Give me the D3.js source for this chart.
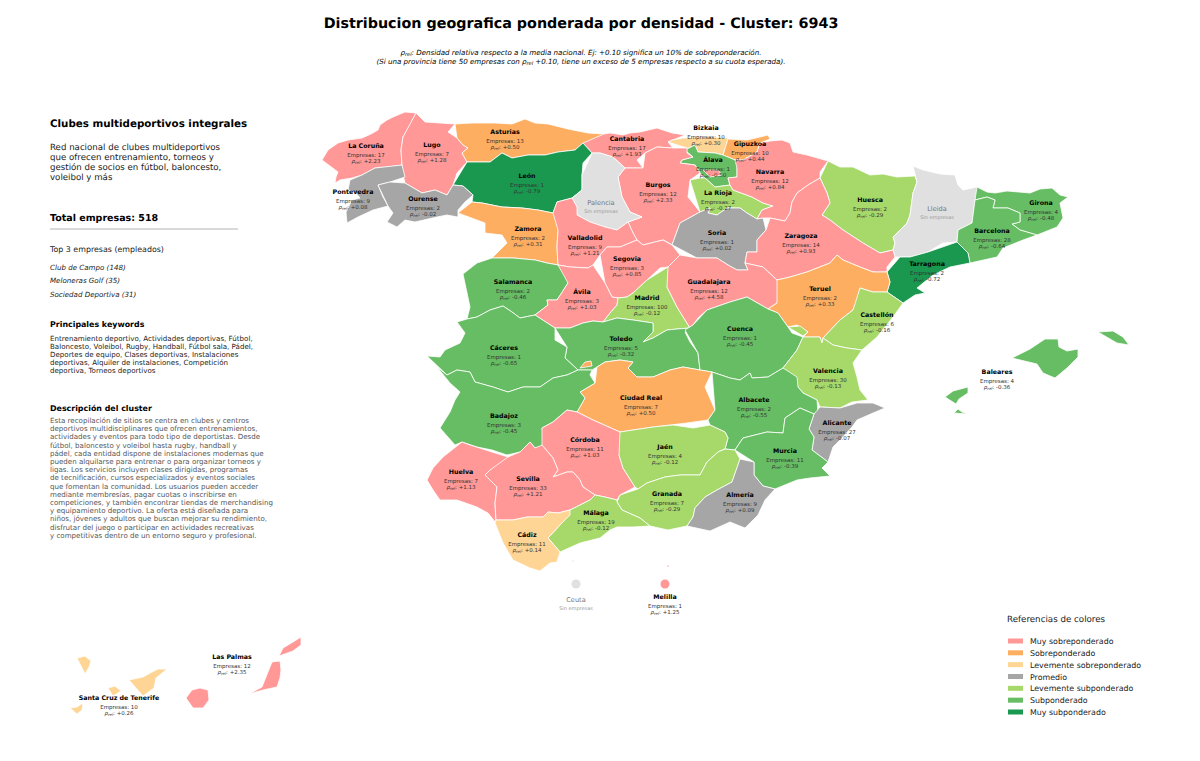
<!DOCTYPE html>
<html>
<head>
<meta charset="utf-8">
<script src="https://cdn.jsdelivr.net/npm/d3@7"></script>
<style>
body { margin: 0; background: #fff; }
svg { display: block; }
text { font-family: "DejaVu Sans", sans-serif; text-rendering: geometricPrecision; }
</style>
</head>
<body>
<svg width="1200" height="761"></svg>
<script>
// values
var provincias = ["La Coruña","Lugo","Asturias","Cantabria","Bizkaia","Gipuzkoa","Álava","León","Pontevedra","Ourense","La Rioja","Navarra","Burgos","Palencia","Huesca","Lleida","Girona","Barcelona","Zamora","Valladolid","Soria","Zaragoza","Segovia","Tarragona","Salamanca","Ávila","Madrid","Guadalajara","Teruel","Castellón","Toledo","Cuenca","Cáceres","Baleares","Valencia","Ciudad Real","Badajoz","Albacete","Alicante","Córdoba","Jaén","Murcia","Huelva","Sevilla","Granada","Almería","Málaga","Cádiz","Ceuta","Melilla","Las Palmas","Santa Cruz de Tenerife"];
var empresas = [17,7,13,17,10,10,1,1,9,2,2,12,12,0,2,0,4,28,2,9,1,14,3,2,2,3,100,12,2,6,5,1,1,4,30,7,3,2,27,11,4,11,7,33,7,9,19,11,0,1,12,10];
var rhoRel = [2.23,1.28,0.50,1.93,0.30,0.44,-0.50,-0.79,0.08,-0.02,-0.27,0.84,2.33,null,-0.29,null,-0.48,-0.64,0.31,1.21,0.02,0.93,0.85,-0.72,-0.46,1.03,-0.12,4.58,0.33,-0.16,-0.32,-0.45,-0.65,-0.36,-0.13,0.50,-0.45,-0.55,-0.07,1.03,-0.12,-0.39,1.13,1.21,-0.29,0.09,-0.12,0.14,null,1.25,2.35,0.26];

var categorias = ["Muy sobreponderado","Sobreponderado","Levemente sobreponderado","Promedio","Levemente subponderado","Subponderado","Muy subponderado"];
var colores = ["#ff9896","#fdae61","#fed595","#a6a6a6","#a6d96a","#66bd63","#1a9850"];
var cortes = [-0.7,-0.3,-0.1,0.1,0.305,0.51];

var top3 = ["Club de Campo (148)","Meloneras Golf (35)","Sociedad Deportiva (31)"];
var resumen = ["Red nacional de clubes multideportivos","que ofrecen entrenamiento, torneos y","gestión de socios en fútbol, baloncesto,","voleibol y más"];
var keywords = ["Entrenamiento deportivo, Actividades deportivas, Fútbol,","Baloncesto, Voleibol, Rugby, Handball, Fútbol sala, Pádel,","Deportes de equipo, Clases deportivas, Instalaciones","deportivas, Alquiler de instalaciones, Competición","deportiva, Torneos deportivos"];
var descripcion = ["Esta recopilación de sitios se centra en clubes y centros","deportivos multidisciplinares que ofrecen entrenamientos,","actividades y eventos para todo tipo de deportistas. Desde","fútbol, baloncesto y voleibol hasta rugby, handball y","pádel, cada entidad dispone de instalaciones modernas que","pueden alquilarse para entrenar o para organizar torneos y","ligas. Los servicios incluyen clases dirigidas, programas","de tecnificación, cursos especializados y eventos sociales","que fomentan la comunidad. Los usuarios pueden acceder","mediante membresías, pagar cuotas o inscribirse en","competiciones, y también encontrar tiendas de merchandising","y equipamiento deportivo. La oferta está diseñada para","niños, jóvenes y adultos que buscan mejorar su rendimiento,","disfrutar del juego o participar en actividades recreativas","y competitivas dentro de un entorno seguro y profesional."];

// province outlines, as arc minutes east of 10W / south of 44N, traced by eye
// (the Canaries sit in their inset, hence the negative eastings)
var contornos = {
  "La Coruña": ["42,60 48,50 58,43 68,40 82,38 91,34 98,30 100,25 107,20 113,17 125,12 136,13 130,25 123,37 121,50 122,65 115,66 107,67 95,68 82,75 72,78 60,80 55,83 56,77 58,72 50,64"],
  "Lugo": ["136,13 145,22 160,23 175,24 168,32 177,38 183,45 188,48 182,53 187,62 177,73 173,85 167,95 155,90 142,93 125,83 123,75 122,65 121,50 123,37 130,25"],
  "Pontevedra": ["122,65 125,77 110,82 98,85 103,97 108,106 93,110 78,117 67,123 66,112 72,100 80,98 75,92 68,90 70,80 82,75 95,68 107,67"],
  "Ourense": ["98,85 110,82 125,83 142,93 155,90 167,95 173,85 183,86 193,95 185,102 178,110 178,117 167,115 157,117 135,122 125,120 117,127 107,122 113,113 108,106 103,97"],
  "Asturias": ["175,24 192,23 215,23 232,24 245,19 255,23 268,24 288,29 308,33 324,34 323,42 303,43 295,50 278,52 265,55 248,55 232,58 222,53 210,62 188,62 187,62 182,53 188,48 183,45 177,38 168,32"],
  "León": ["187,62 210,62 222,53 232,58 248,55 265,55 278,52 295,50 303,43 312,53 303,63 302,75 302,90 292,98 277,102 273,113 258,110 242,108 222,107 202,103 192,102 193,95 183,86 173,85 177,73"],
  "Palencia": ["312,53 320,53 333,57 345,68 338,77 342,97 350,112 362,117 348,122 337,130 325,127 310,122 297,115 297,107 292,98 302,90 302,75 303,63"],
  "Cantabria": ["324,34 330,33 343,35 350,33 360,32 377,28 392,33 405,35 388,42 393,48 377,47 365,53 357,60 363,68 345,68 333,57 320,53 312,53 303,43 323,42"],
  "Álava": ["405,50 415,45 418,52 435,53 443,55 455,60 459,62 457,68 457,77 448,78 450,85 435,87 425,78 420,73 415,65 400,63 402,60 413,57 407,53"],
  "Burgos": ["365,53 377,47 393,48 407,48 407,53 413,57 402,60 400,63 415,65 420,73 410,80 408,97 420,112 400,123 392,145 383,140 363,145 357,140 353,133 348,122 362,117 350,112 342,97 338,77 345,68 363,68 357,60", "423,70 438,70 442,75 430,77 425,74"],
  "Bizkaia": ["388,42 392,40 403,38 420,37 433,37 448,38 447,43 443,55 435,53 418,52 415,45 405,50 407,48 393,48"],
  "Gipuzkoa": ["448,39 467,40 480,37 488,35 490,39 480,43 477,52 463,60 455,60 443,55 447,43"],
  "La Rioja": ["410,80 420,78 425,78 435,87 450,85 453,90 472,97 483,103 493,106 482,110 477,119 467,113 460,108 447,108 437,115 428,113 430,108 420,112 408,97"],
  "Navarra": ["455,60 463,60 477,52 480,43 490,41 502,40 510,43 513,52 527,55 548,61 540,72 540,78 528,85 517,93 512,102 510,113 505,121 490,118 483,118 477,119 482,110 493,106 483,103 472,97 453,90 450,85 448,78 457,77 457,68 459,62"],
  "Huesca": ["548,61 560,67 573,67 590,75 603,74 617,77 635,76 637,82 633,93 630,115 627,123 613,137 615,143 613,150 600,153 583,143 563,130 550,120 542,115 550,103 547,93 540,78 540,72"],
  "Lleida": ["633,66 643,70 660,74 675,75 678,85 683,90 697,87 703,93 695,100 693,117 692,123 678,130 677,142 663,143 648,152 630,157 615,157 613,150 615,143 613,137 627,123 630,115 633,93 637,82 635,76"],
  "Girona": ["697,87 707,92 715,93 727,91 750,93 760,89 772,88 780,95 788,97 780,103 783,118 777,127 757,135 740,130 732,124 740,122 740,113 728,108 713,108 715,100 707,97 695,100 703,93"],
  "Barcelona": ["695,100 707,97 715,100 713,108 728,108 740,113 740,122 732,124 740,130 757,135 743,140 723,148 717,157 690,163 688,153 677,142 678,130 692,123 693,117"],
  "Tarragona": ["677,142 688,153 690,163 670,167 653,175 637,188 645,193 635,195 623,203 607,192 610,182 607,172 620,157 630,157 648,152 663,143"],
  "Zamora": ["178,113 192,102 202,103 222,107 242,108 258,110 273,113 280,118 278,130 277,147 278,165 267,163 255,160 233,158 212,158 227,143 222,135 205,133 205,123 192,117"],
  "Valladolid": ["273,113 277,102 292,98 297,107 297,115 310,122 325,127 337,130 348,122 353,133 357,140 340,147 327,147 320,155 313,165 308,168 290,167 278,165 277,147 278,130 280,118"],
  "Soria": ["383,140 392,145 400,123 420,112 430,108 428,113 437,115 447,108 460,108 467,113 477,119 483,118 486,130 477,140 477,152 467,152 465,163 468,170 457,170 448,165 437,158 417,158 400,155"],
  "Zaragoza": ["490,118 505,121 510,113 512,102 517,93 528,85 540,78 547,93 550,103 542,115 550,120 563,130 583,143 600,153 613,150 615,157 607,167 607,172 593,172 580,167 563,160 557,155 550,163 527,172 510,177 497,180 483,167 465,163 467,152 477,152 477,140 486,130 483,118"],
  "Segovia": ["320,155 327,147 340,147 357,140 363,145 383,140 392,145 400,155 388,167 380,168 367,180 353,193 347,197 338,198 332,197 325,183 313,165"],
  "Salamanca": ["183,174 197,163 212,158 233,158 255,160 267,163 278,165 288,173 288,183 277,200 267,200 268,205 255,215 240,218 232,212 223,206 210,210 197,217 187,219 190,207 188,190"],
  "Ávila": ["278,165 290,167 308,168 313,165 325,183 332,197 338,198 337,205 330,213 323,222 313,221 303,223 290,228 275,228 255,215 268,205 267,200 277,200 288,183 288,173"],
  "Madrid": ["388,167 390,175 387,187 397,207 410,228 397,229 387,230 373,238 363,242 373,232 373,223 353,220 337,218 323,222 330,213 337,205 338,198 347,197 353,193 367,180 380,168"],
  "Guadalajara": ["388,167 400,155 417,158 437,158 448,165 457,170 468,170 465,163 483,167 497,180 503,190 497,203 488,209 467,197 450,202 427,210 418,218 413,225 405,230 410,228 397,207 387,187 390,175"],
  "Teruel": ["497,180 510,177 527,172 550,163 557,155 563,160 580,167 593,172 607,172 610,182 607,192 593,192 580,188 577,200 573,210 560,220 543,238 542,243 540,237 523,237 528,232 517,225 508,227 498,213 488,209 497,203 503,190"],
  "Castellón": ["580,188 593,192 607,192 623,203 613,217 597,237 582,250 567,248 553,245 543,238 560,220 573,210 577,200"],
  "Toledo": ["275,228 290,228 303,223 313,221 323,222 337,218 353,220 373,223 373,232 363,242 373,238 387,230 397,229 410,228 405,232 410,242 418,253 420,270 403,267 390,270 373,277 357,277 348,268 353,262 340,260 325,262 317,267 312,270 298,270 285,258 287,247 275,240"],
  "Cuenca": ["405,230 413,225 427,210 450,202 467,197 488,209 498,213 508,227 512,233 523,237 517,250 503,268 488,277 472,278 470,273 460,280 450,278 432,272 420,270 418,253 410,242"],
  "Cáceres": ["147,256 160,257 165,250 180,243 185,233 177,222 187,219 197,217 210,210 223,206 232,212 240,218 255,215 275,228 275,240 287,247 285,258 298,270 287,275 273,278 260,287 243,287 228,292 213,287 195,282 190,272 177,270 167,275 157,267"],
  "Baleares": ["732,258 750,249 765,239 778,239 779,247 787,251 798,249 798,257 787,268 775,278 763,273 757,264 743,261", "818,232 833,231 843,237 849,245 837,243 823,238", "665,297 673,291 688,287 688,293 679,299 676,304 666,303", "674,313 678,309 682,312 688,314 677,315"],
  "Valencia": ["503,268 517,250 523,237 540,237 542,243 543,238 553,245 567,248 582,250 573,263 577,277 580,290 588,300 572,302 560,308 540,307 537,300 523,293 518,287 517,277", "508,227 520,226 528,232 523,236 512,234"],
  "Ciudad Real": ["317,267 325,262 340,260 353,262 348,268 357,277 373,277 390,270 403,267 420,270 432,272 425,287 435,310 428,320 407,323 373,327 340,332 313,320 297,312 305,298 300,292 315,283 310,275", "300,268 305,262 311,261 312,266 305,271"],
  "Badajoz": ["157,267 167,275 177,270 190,272 195,282 213,287 228,292 243,287 260,287 273,278 287,275 298,270 312,270 310,275 315,283 300,292 305,298 297,312 287,310 273,322 262,328 265,347 255,348 250,342 240,352 227,355 212,350 197,347 182,342 175,345 160,328 170,312 175,300 180,292 170,283 163,273"],
  "Albacete": ["432,272 450,278 460,280 470,273 472,278 488,277 503,268 517,277 518,287 523,293 537,300 538,312 534,314 520,308 505,318 503,333 487,332 463,338 455,350 445,349 448,338 445,332 430,325 428,320 435,310 425,287"],
  "Alicante": ["540,307 560,308 577,303 593,303 605,308 593,313 577,320 572,327 560,340 553,347 548,362 532,350 534,337 529,329 534,314 538,312"],
  "Córdoba": ["262,328 273,322 287,310 297,312 313,320 340,332 345,343 339,355 343,368 355,387 340,395 337,400 325,397 315,395 303,387 300,380 293,372 287,372 273,377 278,370 273,358 262,345 265,347"],
  "Jaén": ["340,332 373,327 393,325 413,328 430,325 445,332 448,338 445,349 438,352 427,362 420,375 400,375 385,377 367,383 358,389 355,387 343,368 339,355 345,343"],
  "Murcia": ["455,350 463,338 487,332 503,333 505,318 520,308 534,314 529,329 534,337 532,350 548,362 542,368 550,376 530,378 517,380 495,389 483,386 474,375 474,362 460,359"],
  "Huelva": ["182,342 190,345 212,352 228,357 225,365 210,370 205,375 217,387 215,403 216,423 208,413 197,407 177,400 160,400 153,390 147,380 153,368 163,357 175,353"],
  "Sevilla": ["228,357 240,352 250,342 255,348 262,345 273,358 278,370 273,377 287,372 293,372 300,380 303,387 315,395 310,400 290,410 278,413 268,412 263,417 247,417 233,420 216,420 215,403 217,387 205,375 210,370 225,365"],
  "Granada": ["358,389 367,383 385,377 400,375 420,375 427,362 438,352 445,349 455,350 460,359 457,368 452,382 437,390 425,397 415,408 413,417 407,426 388,430 370,426 360,418 342,410 337,402 340,395 355,387"],
  "Almería": ["460,359 474,362 474,375 483,386 495,389 485,400 478,415 465,428 450,422 430,431 407,426 413,417 415,408 425,397 437,390 452,382 457,368"],
  "Málaga": ["290,410 310,400 315,395 325,397 337,400 337,402 342,410 360,418 370,426 353,427 337,427 330,430 320,438 300,443 280,452 268,438 280,425 290,415"],
  "Cádiz": ["215,423 216,420 233,420 247,417 263,417 268,412 278,413 290,410 290,415 280,425 268,438 280,452 277,462 270,463 260,471 250,468 233,460 223,443 212,432"],
  "Las Palmas": ["-94,598 -88,590 -80,588 -72,590 -71,600 -77,608 -87,608 -92,604", "-31,594 -18,587 -14,577 -8,562 0,561 1,570 0,578 -3,587 -17,590 -23,594", "-1,556 3,548 13,542 21,537 21,545 13,551 5,554"],
  "Santa Cruz de Tenerife": ["-203,558 -195,556 -189,561 -191,567 -195,574 -201,568", "-172,588 -165,586 -159,591 -167,596 -171,594", "-210,608 -203,607 -197,603 -198,610 -203,614 -206,611", "-151,580 -137,577 -128,572 -122,569 -113,569 -124,578 -126,588 -137,596 -144,593"]
};

// Ceuta and Melilla are shown as dots, next to the speck of their real outline
var enclaves = { "Ceuta": [296,484], "Melilla": [385,484] };
var motas = { "Ceuta": [293,461], "Melilla": [388,466] };

// label anchors in the same grid
var etiquetas = {
  "La Coruña":[86,45],"Lugo":[152,44],"Asturias":[225,31],"Cantabria":[347,38],"Bizkaia":[426,27],"Gipuzkoa":[470,43],"Álava":[433,59],"León":[247,75],"Pontevedra":[73,91],"Ourense":[143,98],"La Rioja":[438,92],"Navarra":[490,71],"Burgos":[378,84],"Palencia":[321,102],"Huesca":[590,99],"Lleida":[657,108],"Girona":[761,102],"Barcelona":[712,130],"Zamora":[248,128],"Valladolid":[305,137],"Soria":[437,132],"Zaragoza":[521,135],"Segovia":[347,158],"Tarragona":[647,163],"Salamanca":[233,181],"Ávila":[302,191],"Madrid":[367,197],"Guadalajara":[429,181],"Teruel":[540,188],"Castellón":[597,214],"Toledo":[341,238],"Cuenca":[460,228],"Cáceres":[224,247],"Baleares":[717,271],"Valencia":[548,270],"Ciudad Real":[361,297],"Badajoz":[224,315],"Albacete":[474,299],"Alicante":[557,322],"Córdoba":[305,339],"Jaén":[385,346],"Murcia":[505,350],"Huelva":[181,371],"Sevilla":[248,378],"Granada":[387,393],"Almería":[460,394],"Málaga":[316,412],"Cádiz":[247,434],"Ceuta":[296,499],"Melilla":[385,496],"Las Palmas":[-48,556],"Santa Cruz de Tenerife":[-161,597]
};

var svg = d3.select("svg");
var x = d3.scaleLinear().domain([0,900]).range([280,1180]);
var y = d3.scaleLinear().domain([0,600]).range([100,700]);
// colores runs from over to under weighted, the thresholds run low to high
var color = d3.scaleThreshold().domain(cortes).range(colores.slice().reverse());

var path = d3.geoPath(d3.geoTransform({
  point: function(e, s) { this.stream.point(x(e), y(s)); }
}));

var parseRing = function(str) {
  return str.split(" ").map(function(p) { return p.split(",").map(Number); });
};

var filas = provincias.map(function(nombre, i) {
  return { nombre: nombre, empresas: empresas[i], rho: rhoRel[i] };
});
var fill = function(d) { return d.rho === null ? "#e0e0e0" : color(d.rho); };

var g = svg.append("g");

g.selectAll("path.prov")
  .data(filas.filter(function(d) { return contornos[d.nombre]; }))
  .enter().append("path")
    .attr("class", "prov")
    .attr("fill", fill)
    .attr("stroke", "#fff")
    .attr("stroke-width", 0.8)
    .attr("stroke-linejoin", "round")
    .attr("d", function(d) {
      return path({ type: "MultiPolygon", coordinates: contornos[d.nombre].map(function(r) { return [parseRing(r)]; }) });
    });

var conPunto = filas.filter(function(d) { return enclaves[d.nombre]; });

g.selectAll("circle.enclave")
  .data(conPunto)
  .enter().append("circle")
    .attr("class", "enclave")
    .attr("cx", function(d) { return x(enclaves[d.nombre][0]); })
    .attr("cy", function(d) { return y(enclaves[d.nombre][1]); })
    .attr("r", 4.5)
    .attr("fill", fill);

g.selectAll("circle.mota")
  .data(conPunto)
  .enter().append("circle")
    .attr("class", "mota")
    .attr("cx", function(d) { return x(motas[d.nombre][0]); })
    .attr("cy", function(d) { return y(motas[d.nombre][1]); })
    .attr("r", 0.7)
    .attr("fill", fill);

// province labels
var rhoText = function(sel, v, fontSize) {
  sel.append("tspan").attr("font-style", "italic").text("ρ");
  sel.append("tspan").attr("font-style", "italic").attr("font-size", fontSize * 0.7).attr("dy", 1.2).text("rel");
  sel.append("tspan").attr("dy", -1.2).text(": " + v);
};

var lab = g.selectAll("g.lab").data(filas).enter().append("g")
  .attr("class", "lab")
  .attr("text-anchor", "middle")
  .attr("transform", function(d) {
    var p = etiquetas[d.nombre];
    return "translate(" + x(p[0]) + "," + y(p[1]) + ")";
  });

lab.each(function(d) {
  var l = d3.select(this);
  if (d.rho === null) {
    l.append("text").attr("dy", 2.5).attr("font-size", 6.6).attr("fill", "#777").text(d.nombre);
    l.append("text").attr("dy", 10.5).attr("font-size", 5).attr("fill", "#999").text("Sin empresas");
    return;
  }
  l.append("text").attr("dy", 2.5).attr("font-size", 6.3).attr("font-weight", "bold").attr("fill", "#000").text(d.nombre);
  l.append("text").attr("dy", 11.5).attr("font-size", 5.5).attr("fill", "#333").text("Empresas: " + d.empresas);
  var v = (d.rho >= 0 ? "+" : "") + d.rho.toFixed(2);
  l.append("text").attr("dy", 17.5).attr("font-size", 5.5).attr("fill", "#333").call(rhoText, v, 5.5);
});

// title block
svg.append("text").attr("x", 581).attr("y", 28).attr("text-anchor", "middle")
  .attr("font-size", 14.3).attr("font-weight", "bold").text("Distribucion geografica ponderada por densidad - Cluster: 6943");

var sub1 = svg.append("text").attr("x", 581).attr("y", 55).attr("text-anchor", "middle")
  .attr("font-size", 7.1).attr("font-style", "italic");
sub1.append("tspan").text("ρ");
sub1.append("tspan").attr("font-size", 5).attr("dy", 1.4).text("rel");
sub1.append("tspan").attr("dy", -1.4).text(": Densidad relativa respecto a la media nacional. Ej: +0.10 significa un 10% de sobreponderación.");

var sub2 = svg.append("text").attr("x", 581).attr("y", 64).attr("text-anchor", "middle")
  .attr("font-size", 7.1).attr("font-style", "italic");
sub2.append("tspan").text("(Si una provincia tiene 50 empresas con ρ");
sub2.append("tspan").attr("font-size", 5).attr("dy", 1.4).text("rel");
sub2.append("tspan").attr("dy", -1.4).text(" +0.10, tiene un exceso de 5 empresas respecto a su cuota esperada).");

// left panel
var panel = svg.append("g").attr("transform", "translate(50,0)");
var linea = function(txt, yy, size, opts) {
  opts = opts || {};
  panel.append("text").attr("y", yy).attr("font-size", size)
    .attr("font-weight", opts.bold ? "bold" : null)
    .attr("font-style", opts.italic ? "italic" : null)
    .attr("fill", opts.fill || "#000")
    .text(txt);
};
linea("Clubes multideportivos integrales", 127, 10.3, { bold: true });
resumen.forEach(function(t, i) { linea(t, 149.5 + i * 10, 8.65, { fill: "#222" }); });
linea("Total empresas: 518", 220.5, 9.5, { bold: true });
panel.append("line").attr("x1", 0).attr("x2", 188).attr("y1", 229).attr("y2", 229).attr("stroke", "#ccc").attr("stroke-width", 1.3);
linea("Top 3 empresas (empleados)", 252, 7.9, { fill: "#222" });
top3.forEach(function(t, i) { linea(t, 270 + i * 13.3, 7.1, { italic: true, fill: "#222" }); });
linea("Principales keywords", 327, 7.9, { bold: true });
keywords.forEach(function(t, i) { linea(t, 341 + i * 8.1, 7.1, { fill: "#222" }); });
linea("Descripción del cluster", 411, 7.9, { bold: true });
descripcion.forEach(function(t, i) { linea(t, 423 + i * 8.2, 7.1, { fill: "#555" }); });

// legend
var leg = svg.append("g").attr("transform", "translate(1007,0)");
leg.append("text").attr("y", 622).attr("font-size", 8.7).attr("fill", "#222").text("Referencias de colores");
var ley = d3.scalePoint().domain(categorias).range([641, 712]);
var filaLeg = leg.selectAll("g").data(categorias).enter().append("g")
  .attr("transform", function(d) { return "translate(0," + ley(d) + ")"; });
filaLeg.append("rect").attr("x", 1).attr("y", -2.5).attr("width", 15).attr("height", 5)
  .attr("fill", function(d, i) { return colores[i]; });
filaLeg.append("text").attr("x", 23).attr("y", 3).attr("font-size", 7.9).attr("fill", "#222").text(function(d) { return d; });
</script>
</body>
</html>
